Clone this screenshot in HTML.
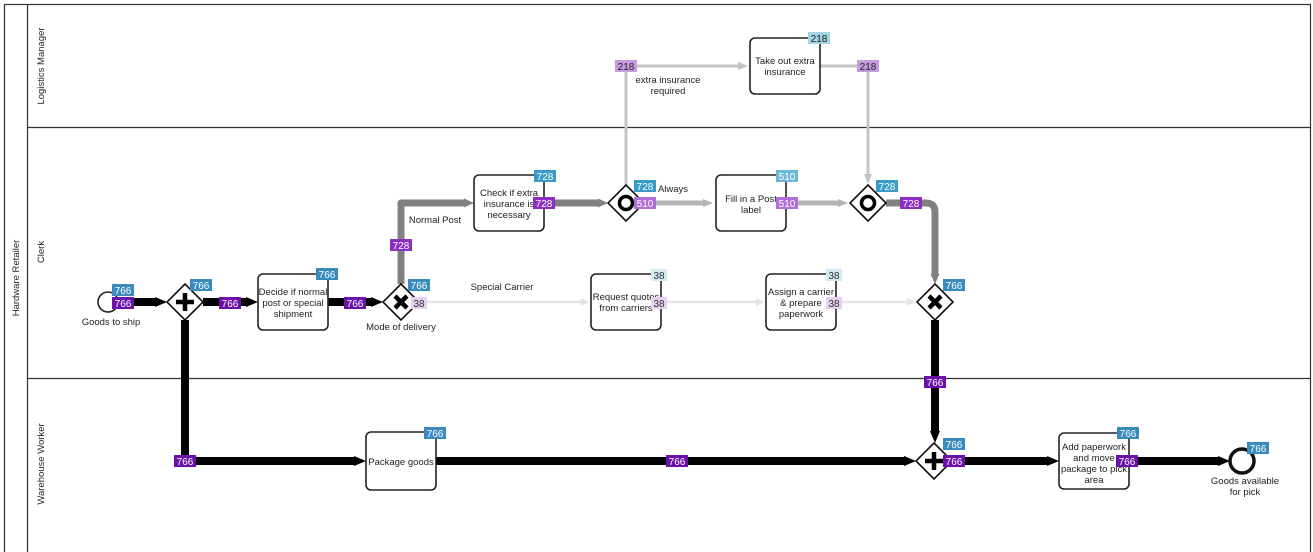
<!DOCTYPE html>
<html><head><meta charset="utf-8"><style>
html,body{margin:0;padding:0;background:#fff;}
svg{display:block;font-family:"Liberation Sans",sans-serif;}
.t{font-size:9.5px;fill:#222;text-anchor:middle;}
.b{font-size:10px;fill:#fff;text-anchor:middle;}
.task{fill:#fff;stroke:#222;stroke-width:1.6;}
</style></head><body>
<svg width="1313" height="552" viewBox="0 0 1313 552">
<defs>
<marker id="ab" markerUnits="userSpaceOnUse" markerWidth="12" markerHeight="10" refX="0" refY="5" orient="auto"><path d="M0,0 L12,5 L0,10Z" fill="#000"/></marker>
<marker id="ag" markerUnits="userSpaceOnUse" markerWidth="10" markerHeight="9" refX="0" refY="4.5" orient="auto"><path d="M0,0 L10,4.5 L0,9Z" fill="#808080"/></marker>
<marker id="al" markerUnits="userSpaceOnUse" markerWidth="10" markerHeight="8" refX="0" refY="4" orient="auto"><path d="M0,0 L10,4 L0,8Z" fill="#b5b5b5"/></marker>
<marker id="ac" markerUnits="userSpaceOnUse" markerWidth="10" markerHeight="8" refX="0" refY="4" orient="auto"><path d="M0,0 L10,4 L0,8Z" fill="#c4c4c4"/></marker>
<marker id="ae" markerUnits="userSpaceOnUse" markerWidth="9" markerHeight="8" refX="0" refY="4" orient="auto"><path d="M0,0 L9,4 L0,8Z" fill="#e4e4e4"/></marker>
</defs>
<!-- pool -->
<rect x="4.5" y="4.5" width="1306" height="560" fill="none" stroke="#333" stroke-width="1.2"/>
<line x1="27.5" y1="4" x2="27.5" y2="552" stroke="#333" stroke-width="1.2"/>
<line x1="27" y1="127.5" x2="1311" y2="127.5" stroke="#333" stroke-width="1.2"/>
<line x1="27" y1="378.5" x2="1311" y2="378.5" stroke="#333" stroke-width="1.2"/>
<text class="t" transform="translate(19,278) rotate(-90)">Hardware Retailer</text>
<text class="t" transform="translate(44,66) rotate(-90)">Logistics Manager</text>
<text class="t" transform="translate(44,252) rotate(-90)">Clerk</text>
<text class="t" transform="translate(44,464) rotate(-90)">Warehouse Worker</text>

<g stroke="#e4e4e4" stroke-width="2.5" fill="none" marker-end="url(#ae)">
<line x1="419" y1="302" x2="581" y2="302"/>
<line x1="661" y1="302" x2="756" y2="302"/>
<line x1="836" y1="302" x2="907" y2="302"/>
</g>
<g stroke="#c4c4c4" stroke-width="3" fill="none">
<path d="M626,186 V66 H738" marker-end="url(#ac)"/>
<path d="M820,66 H868 V174" marker-end="url(#ac)"/>
</g>
<g stroke="#b5b5b5" stroke-width="5" fill="none" marker-end="url(#al)">
<line x1="644" y1="203" x2="703" y2="203"/>
<line x1="786" y1="203" x2="838" y2="203"/>
</g>
<g stroke="#808080" stroke-width="7" fill="none" stroke-linejoin="round">
<path d="M401,284 V203 H464" marker-end="url(#ag)"/>
<line x1="544" y1="203" x2="598" y2="203" marker-end="url(#ag)"/>
<path d="M886,203 H926 Q935,203 935,212 V274" marker-end="url(#ag)"/>
</g>
<g stroke="#000" stroke-width="8" fill="none" marker-end="url(#ab)">
<line x1="118" y1="302" x2="155" y2="302"/>
<line x1="203" y1="302" x2="246" y2="302"/>
<line x1="328" y1="302" x2="371" y2="302"/>
<path d="M185,320 V461 H354"/>
<line x1="436" y1="461" x2="904" y2="461"/>
<line x1="935" y1="320" x2="935" y2="431"/>
<line x1="952" y1="461" x2="1047" y2="461"/>
<line x1="1129" y1="461" x2="1218" y2="461"/>
</g>

<circle cx="108" cy="302" r="10" fill="#fff" stroke="#222" stroke-width="1.6"/>
<text class="t" x="111" y="325">Goods to ship</text>
<circle cx="1242" cy="461" r="12" fill="#fff" stroke="#111" stroke-width="3.5"/>
<text class="t" x="1245" y="484">Goods available</text>
<text class="t" x="1245" y="495">for pick</text>

<g fill="#fff" stroke="#111" stroke-width="1.6">
<path d="M185,284 L203,302 L185,320 L167,302Z"/>
<path d="M401,284 L419,302 L401,320 L383,302Z"/>
<path d="M626,185 L644,203 L626,221 L608,203Z"/>
<path d="M868,185 L886,203 L868,221 L850,203Z"/>
<path d="M935,284 L953,302 L935,320 L917,302Z"/>
<path d="M934,443 L952,461 L934,479 L916,461Z"/>
</g>
<g stroke="#000" stroke-width="4.5" fill="none">
<path d="M185,293 V311 M176,302 H194"/>
<path d="M934,452 V470 M925,461 H943"/>
<path d="M395,296 L407,308 M407,296 L395,308"/>
<path d="M929,296 L941,308 M941,296 L929,308"/>
</g>
<circle cx="626" cy="203" r="6.5" fill="none" stroke="#000" stroke-width="3.5"/>
<circle cx="868" cy="203" r="6.5" fill="none" stroke="#000" stroke-width="3.5"/>
<text class="t" x="401" y="330">Mode of delivery</text>

<rect class="task" x="258" y="274" width="70" height="56" rx="5"/>
<text class="t" x="293" y="295">Decide if normal</text><text class="t" x="293" y="306">post or special</text><text class="t" x="293" y="317">shipment</text>
<rect class="task" x="474" y="175" width="70" height="56" rx="5"/>
<text class="t" x="509" y="196">Check if extra</text><text class="t" x="509" y="207">insurance is</text><text class="t" x="509" y="218">necessary</text>
<rect class="task" x="716" y="175" width="70" height="56" rx="5"/>
<text class="t" x="751" y="202">Fill in a Post</text><text class="t" x="751" y="213">label</text>
<rect class="task" x="750" y="38" width="70" height="56" rx="5"/>
<text class="t" x="785" y="64">Take out extra</text><text class="t" x="785" y="75">insurance</text>
<rect class="task" x="591" y="274" width="70" height="56" rx="5"/>
<text class="t" x="626" y="300">Request quotes</text><text class="t" x="626" y="311">from carriers</text>
<rect class="task" x="766" y="274" width="70" height="56" rx="5"/>
<text class="t" x="801" y="295">Assign a carrier</text><text class="t" x="801" y="306">&amp; prepare</text><text class="t" x="801" y="317">paperwork</text>
<rect class="task" x="366" y="432" width="70" height="58" rx="5"/>
<text class="t" x="401" y="465">Package goods</text>
<rect class="task" x="1059" y="433" width="70" height="56" rx="5"/>
<text class="t" x="1094" y="450">Add paperwork</text><text class="t" x="1094" y="461">and move</text><text class="t" x="1094" y="472">package to pick</text><text class="t" x="1094" y="483">area</text>

<text class="t" x="435" y="223">Normal Post</text>
<text class="t" x="502" y="290">Special Carrier</text>
<text class="t" x="673" y="192">Always</text>
<text class="t" x="668" y="83">extra insurance</text>
<text class="t" x="668" y="94">required</text>

<g>
<rect x="112" y="284" width="22" height="12" fill="#3a8bbd"/><text class="b" x="123" y="294">766</text>
<rect x="112" y="297" width="22" height="12" fill="#6a11a8"/><text class="b" x="123" y="307">766</text>
<rect x="190" y="279" width="22" height="12" fill="#3a8bbd"/><text class="b" x="201" y="289">766</text>
<rect x="219" y="297" width="22" height="12" fill="#6a11a8"/><text class="b" x="230" y="307">766</text>
<rect x="316" y="268" width="22" height="12" fill="#3a8bbd"/><text class="b" x="327" y="278">766</text>
<rect x="344" y="297" width="22" height="12" fill="#6a11a8"/><text class="b" x="355" y="307">766</text>
<rect x="408" y="279" width="22" height="12" fill="#3a8bbd"/><text class="b" x="419" y="289">766</text>
<rect x="411" y="297" width="16" height="12" fill="#e6d0f0"/><text class="b" x="419" y="307" style="fill:#333">38</text>
<rect x="390" y="239" width="22" height="12" fill="#8a2fc0"/><text class="b" x="401" y="249">728</text>
<rect x="534" y="170" width="22" height="12" fill="#3a9cc6"/><text class="b" x="545" y="180">728</text>
<rect x="533" y="197" width="22" height="12" fill="#8a2fc0"/><text class="b" x="544" y="207">728</text>
<rect x="634" y="180" width="22" height="12" fill="#3a9cc6"/><text class="b" x="645" y="190">728</text>
<rect x="634" y="197" width="22" height="12" fill="#b06fd8"/><text class="b" x="645" y="207">510</text>
<rect x="776" y="170" width="22" height="12" fill="#6cb8d8"/><text class="b" x="787" y="180">510</text>
<rect x="776" y="197" width="22" height="12" fill="#b06fd8"/><text class="b" x="787" y="207">510</text>
<rect x="876" y="180" width="22" height="12" fill="#3a9cc6"/><text class="b" x="887" y="190">728</text>
<rect x="900" y="197" width="22" height="12" fill="#8a2fc0"/><text class="b" x="911" y="207">728</text>
<rect x="943" y="279" width="22" height="12" fill="#3a8bbd"/><text class="b" x="954" y="289">766</text>
<rect x="924" y="376" width="22" height="12" fill="#6a11a8"/><text class="b" x="935" y="386">766</text>
<rect x="943" y="438" width="22" height="12" fill="#3a8bbd"/><text class="b" x="954" y="448">766</text>
<rect x="943" y="455" width="22" height="12" fill="#6a11a8"/><text class="b" x="954" y="465">766</text>
<rect x="666" y="455" width="22" height="12" fill="#6a11a8"/><text class="b" x="677" y="465">766</text>
<rect x="174" y="455" width="22" height="12" fill="#6a11a8"/><text class="b" x="185" y="465">766</text>
<rect x="424" y="427" width="22" height="12" fill="#3a8bbd"/><text class="b" x="435" y="437">766</text>
<rect x="1117" y="427" width="22" height="12" fill="#3a8bbd"/><text class="b" x="1128" y="437">766</text>
<rect x="1116" y="455" width="22" height="12" fill="#6a11a8"/><text class="b" x="1127" y="465">766</text>
<rect x="1247" y="442" width="22" height="12" fill="#3a8bbd"/><text class="b" x="1258" y="452">766</text>
<rect x="615" y="60" width="22" height="12" fill="#c79ae0"/><text class="b" x="626" y="70" style="fill:#222">218</text>
<rect x="808" y="32" width="22" height="12" fill="#9fd4e4"/><text class="b" x="819" y="42" style="fill:#222">218</text>
<rect x="857" y="60" width="22" height="12" fill="#c79ae0"/><text class="b" x="868" y="70" style="fill:#222">218</text>
<rect x="651" y="269" width="16" height="12" fill="#d4eaf2"/><text class="b" x="659" y="279" style="fill:#333">38</text>
<rect x="651" y="297" width="16" height="12" fill="#e6d0f0"/><text class="b" x="659" y="307" style="fill:#333">38</text>
<rect x="826" y="269" width="16" height="12" fill="#d4eaf2"/><text class="b" x="834" y="279" style="fill:#333">38</text>
<rect x="826" y="297" width="16" height="12" fill="#e6d0f0"/><text class="b" x="834" y="307" style="fill:#333">38</text>
</g>
</svg>
</body></html>
